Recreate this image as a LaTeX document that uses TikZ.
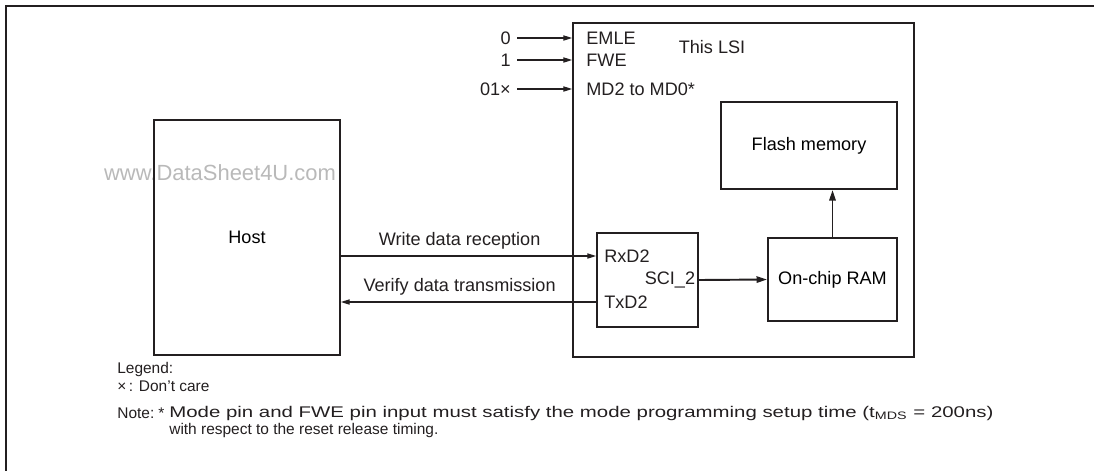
\documentclass[tikz,border=0pt]{standalone}
\usepackage{fontspec}
\setmainfont{Liberation Sans}
\usetikzlibrary{arrows.meta,positioning}
\definecolor{LSIInk}{RGB}{35,31,32}
\definecolor{LSIMark}{RGB}{185,185,185}
\newcommand\diagfont{\fontsize{10.3}{12}\selectfont}
\newcommand\notefont{\fontsize{8.8}{10.5}\selectfont}
\tikzset{
  blk/.style={draw=LSIInk,line width=1.1pt,inner sep=0pt,align=center,font=\diagfont},
  pin/.style={inner sep=0pt,anchor=west,font=\diagfont,text=LSIInk},
  lvl/.style={anchor=east,font=\diagfont,text=LSIInk},
  notetxt/.style={inner sep=0pt,anchor=west,font=\notefont,text=LSIInk},
  sarr/.style={-{Triangle[length=5pt,width=3pt]},LSIInk,line width=0.6pt},
  barr/.style={-{Triangle[length=6pt,width=3.6pt]},LSIInk,line width=1.1pt},
}

\begin{document}
\begin{tikzpicture}[x=0.02cm,y=-0.02cm]
  \useasboundingbox (0,0) rectangle (1094,471);
  \draw[LSIInk,line width=1.2pt] (1094,6) -- (6,6) -- (6,471);
  \node[font=\fontsize{12.5}{14}\selectfont,text=LSIMark] (mark) at (220,173) {www.DataSheet4U.com};

  \node[blk,minimum width=6.82cm,minimum height=6.68cm] (lsi) at (743.5,190) {};
  \node[font=\diagfont,text=LSIInk] (lsitxt) at (712,47) {This LSI};
  \node[blk,minimum width=3.72cm,minimum height=4.7cm] (host) at (247,237.5) {Host};
  \node[blk,minimum width=3.52cm,minimum height=1.74cm] (flash) at (809,145.5) {Flash memory};
  \node[blk,minimum width=2.58cm,minimum height=1.66cm] (ram) at (832.5,279.5) {On-chip RAM};
  \node[blk,minimum width=2.02cm,minimum height=1.88cm] (sci) at (647.5,280) {};
  \node[pin] (rxd) at (604,256) {RxD2};
  \node[pin] (txd) at (604,302) {TxD2};
  \node[anchor=east,inner sep=2pt,font=\diagfont,text=LSIInk] (scitxt) at (sci.east) {SCI\_2};

  % mode pins
  \node[pin] (emle) at (586,38) {EMLE};
  \node[pin] (fwe) at (586,60) {FWE};
  \node[pin] (mdp) at (586,89) {MD2 to MD0*};
  \node[lvl] (in0) at (517,38) {0};
  \node[lvl] (in1) at (517,60) {1};
  \node[lvl] (in2) at (517,89) {01\texttimes};
  \draw[sarr] (in0) -- (in0 -| lsi.west);
  \draw[sarr] (in1) -- (in1 -| lsi.west);
  \draw[sarr] (in2) -- (in2 -| lsi.west);

  \draw[sarr] (rxd.west -| host.east) -- (rxd.west -| sci.west)
    node[pos=0.465,above,font=\diagfont,text=LSIInk]{Write data reception};
  \draw[sarr] (txd.west -| sci.west) -- (txd.west -| host.east)
    node[pos=0.535,above,font=\diagfont,text=LSIInk]{Verify data transmission};
  \draw[barr] (sci.east) -- (ram.west);
  \draw[barr] (ram.north) -- (ram.north |- flash.south);

  % legend and note
  \node[notetxt] (leg) at (117,369) {Legend:};
  \node[notetxt] (dc) at (117,386) {\texttimes\,: Don't care};
  \node[notetxt] (note) at (117,413) {Note:};
  \node[notetxt] (star) at (158,413) {*};
  \node[notetxt] (nl1) at (169,413) {\scalebox{1.32}[1]{Mode pin and FWE pin input must satisfy the mode programming setup time (t\textsubscript{MDS} = 200ns)}};
  \node[notetxt] (nl2) at (169,430) {with respect to the reset release timing.};
\end{tikzpicture}
\end{document}
